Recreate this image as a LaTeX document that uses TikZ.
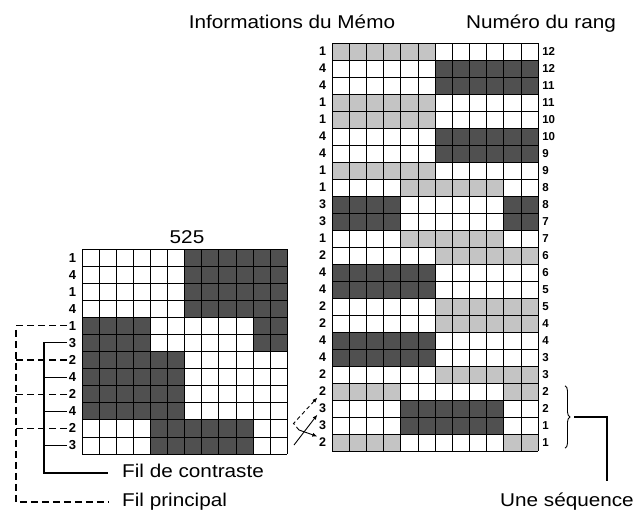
\documentclass[tikz,border=0pt]{standalone}
\usepackage{fontspec}
\setmainfont{Liberation Sans}
\newfontfamily\legende[FakeStretch=1.12]{Liberation Sans}
\usetikzlibrary{
    positioning,                      % placement relatif
    arrows.meta,                      % pointes Latex
    calc,                             % milieu de l'accolade
    decorations.pathreplacing         % accolade de la sequence
}
\definecolor{tramefonce}{RGB}{80,80,80}
\definecolor{trameclair}{RGB}{196,196,196}
\colorlet{W}{white}
\colorlet{L}{trameclair}
\colorlet{D}{tramefonce}
\tikzset{
    trait/.style={line width=0.7pt},
    numrang/.style={font=\fontsize{11.5}{11.5}\selectfont\bfseries, inner sep=1.5pt},
    numinfo/.style={numrang, font=\fontsize{12.5}{12.5}\selectfont\bfseries},
    numfil/.style={numrang, font=\fontsize{13}{13}\selectfont\bfseries},
    titre/.style={font=\legende\fontsize{18.5}{18.5}\selectfont, inner sep=0pt},
    fil/.style={line width=1.1pt},
    filp/.style={fil, dash pattern=on 7pt off 4pt},
    fleche/.style={-{Latex[length=5pt,width=4pt]}, line width=0.9pt},
    accolade/.style={decorate, decoration={brace, amplitude=5pt}, line width=0.9pt}
}

\begin{document}
\begin{tikzpicture}[x=1pt, y=-1pt]
    \useasboundingbox (0,0) rectangle (636,512);

    % titres
    \node[titre, anchor=base] (memo) at (292,28) {Informations du Mémo};
    \node[titre, anchor=base] (rang) at (541,28) {Numéro du rang};

    % grille du Mémo (24 rangs)
    \begin{scope}[shift={(332,43)}, x=17.17pt, y=-17pt]
        \foreach \a/\b/\c/\d [count=\r] in {
            L/L/W/W, W/W/D/D, W/W/D/D, L/L/W/W, L/L/W/W, W/W/D/D, W/W/D/D, L/L/W/W,
            W/L/L/W, D/W/W/D, D/W/W/D, W/L/L/W, W/W/L/L, D/D/W/W, D/D/W/W, W/W/L/L,
            W/W/L/L, D/D/W/W, D/D/W/W, W/W/L/L, L/W/W/L, W/D/D/W, W/D/D/W, L/W/W/L}
        {
            \fill[\a] (0,\r-1) rectangle (4,\r);
            \fill[\b] (4,\r-1) rectangle (6,\r);
            \fill[\c] (6,\r-1) rectangle (10,\r);
            \fill[\d] (10,\r-1) rectangle (12,\r);
        }
        \foreach \i in {0,...,12} \draw[trait] (\i,0) -- (\i,24);
        \foreach \j in {0,...,24} \draw[trait] (0,\j) -- (12,\j);
        \foreach \n [count=\r] in {1,4,4,1,1,4,4,1,1,3,3,1,2,4,4,2,2,4,4,2,2,3,3,2}
            \node[numinfo, anchor=east] (dg\r) at (-0.25,\r-0.5) {\n};
        \foreach \n [count=\r] in {12,12,11,11,10,10,9,9,8,8,7,7,6,6,5,5,4,4,3,3,2,2,1,1}
            \node[numrang, anchor=west] (dr\r) at (12.15,\r-0.5) {\n};
    \end{scope}

    % grille 525 (12 rangs)
    \node[titre, anchor=base] (total) at (187,243) {525};
    \begin{scope}[shift={(82,249)}, x=17.1pt, y=-17.08pt]
        \foreach \a/\b/\c/\d [count=\r] in {
            W/W/D/D, W/W/D/D, W/W/D/D, W/W/D/D, D/W/W/D, D/W/W/D,
            D/D/W/W, D/D/W/W, D/D/W/W, D/D/W/W, W/D/D/W, W/D/D/W}
        {
            \fill[\a] (0,\r-1) rectangle (4,\r);
            \fill[\b] (4,\r-1) rectangle (6,\r);
            \fill[\c] (6,\r-1) rectangle (10,\r);
            \fill[\d] (10,\r-1) rectangle (12,\r);
        }
        \foreach \i in {0,...,12} \draw[trait] (\i,0) -- (\i,12);
        \foreach \j in {0,...,12} \draw[trait] (0,\j) -- (12,\j);
        \foreach \n [count=\r] in {1,4,1,4,1,3,2,4,2,4,2,3}
            \node[numfil, anchor=east] (gl\r) at (-0.25,\r-0.5) {\n};
    \end{scope}

    % fils
    \node[titre, anchor=base west] (contraste) at (122,477) {Fil de contraste};
    \node[titre, anchor=base west] (principal) at (122,506) {Fil principal};
    \coordinate (cv) at (44,0);
    \coordinate (pv) at (16,0);
    \coordinate (fc) at (108,473);
    \coordinate (fp) at (108,502);
    \draw[fil] (gl6.west) -- (gl6.west -| cv) -- (cv |- fc) -- (fc);
    \foreach \i in {8,10,12} \draw[fil] (gl\i.west) -- (gl\i.west -| cv);
    \draw[filp] (gl5.west) -- (gl5.west -| pv) -- (pv |- fp) -- (fp);
    \foreach \i in {7,9,11} \draw[filp] (gl\i.west) -- (gl\i.west -| pv);

    % fleches vers le Memo
    \coordinate (a1) at (293.5,423.5);
    \coordinate (a2) at (299,430);
    \coordinate (a3) at (294,445);
    \draw[fleche, dash pattern=on 4pt off 3pt] (a2) -- (a1) -- (dg21.south west);
    \draw[fleche] (a3) -- (dg22.south west);
    \draw[fleche] (a2) -- (dg24.north west);

    % sequence
    \node[titre, anchor=base east] (sequence) at (634,506) {Une séquence};
    \coordinate (bx) at (565,0);
    \coordinate (fs) at (607,481);
    \draw[accolade] (dr21.north -| bx) -- (dr24.south -| bx);
    \coordinate (pointe) at ($(dr21.north -| bx)!0.5!(dr24.south -| bx)+(9,0)$);
    \draw[fil] (pointe) -| (fs);
\end{tikzpicture}
\end{document}
